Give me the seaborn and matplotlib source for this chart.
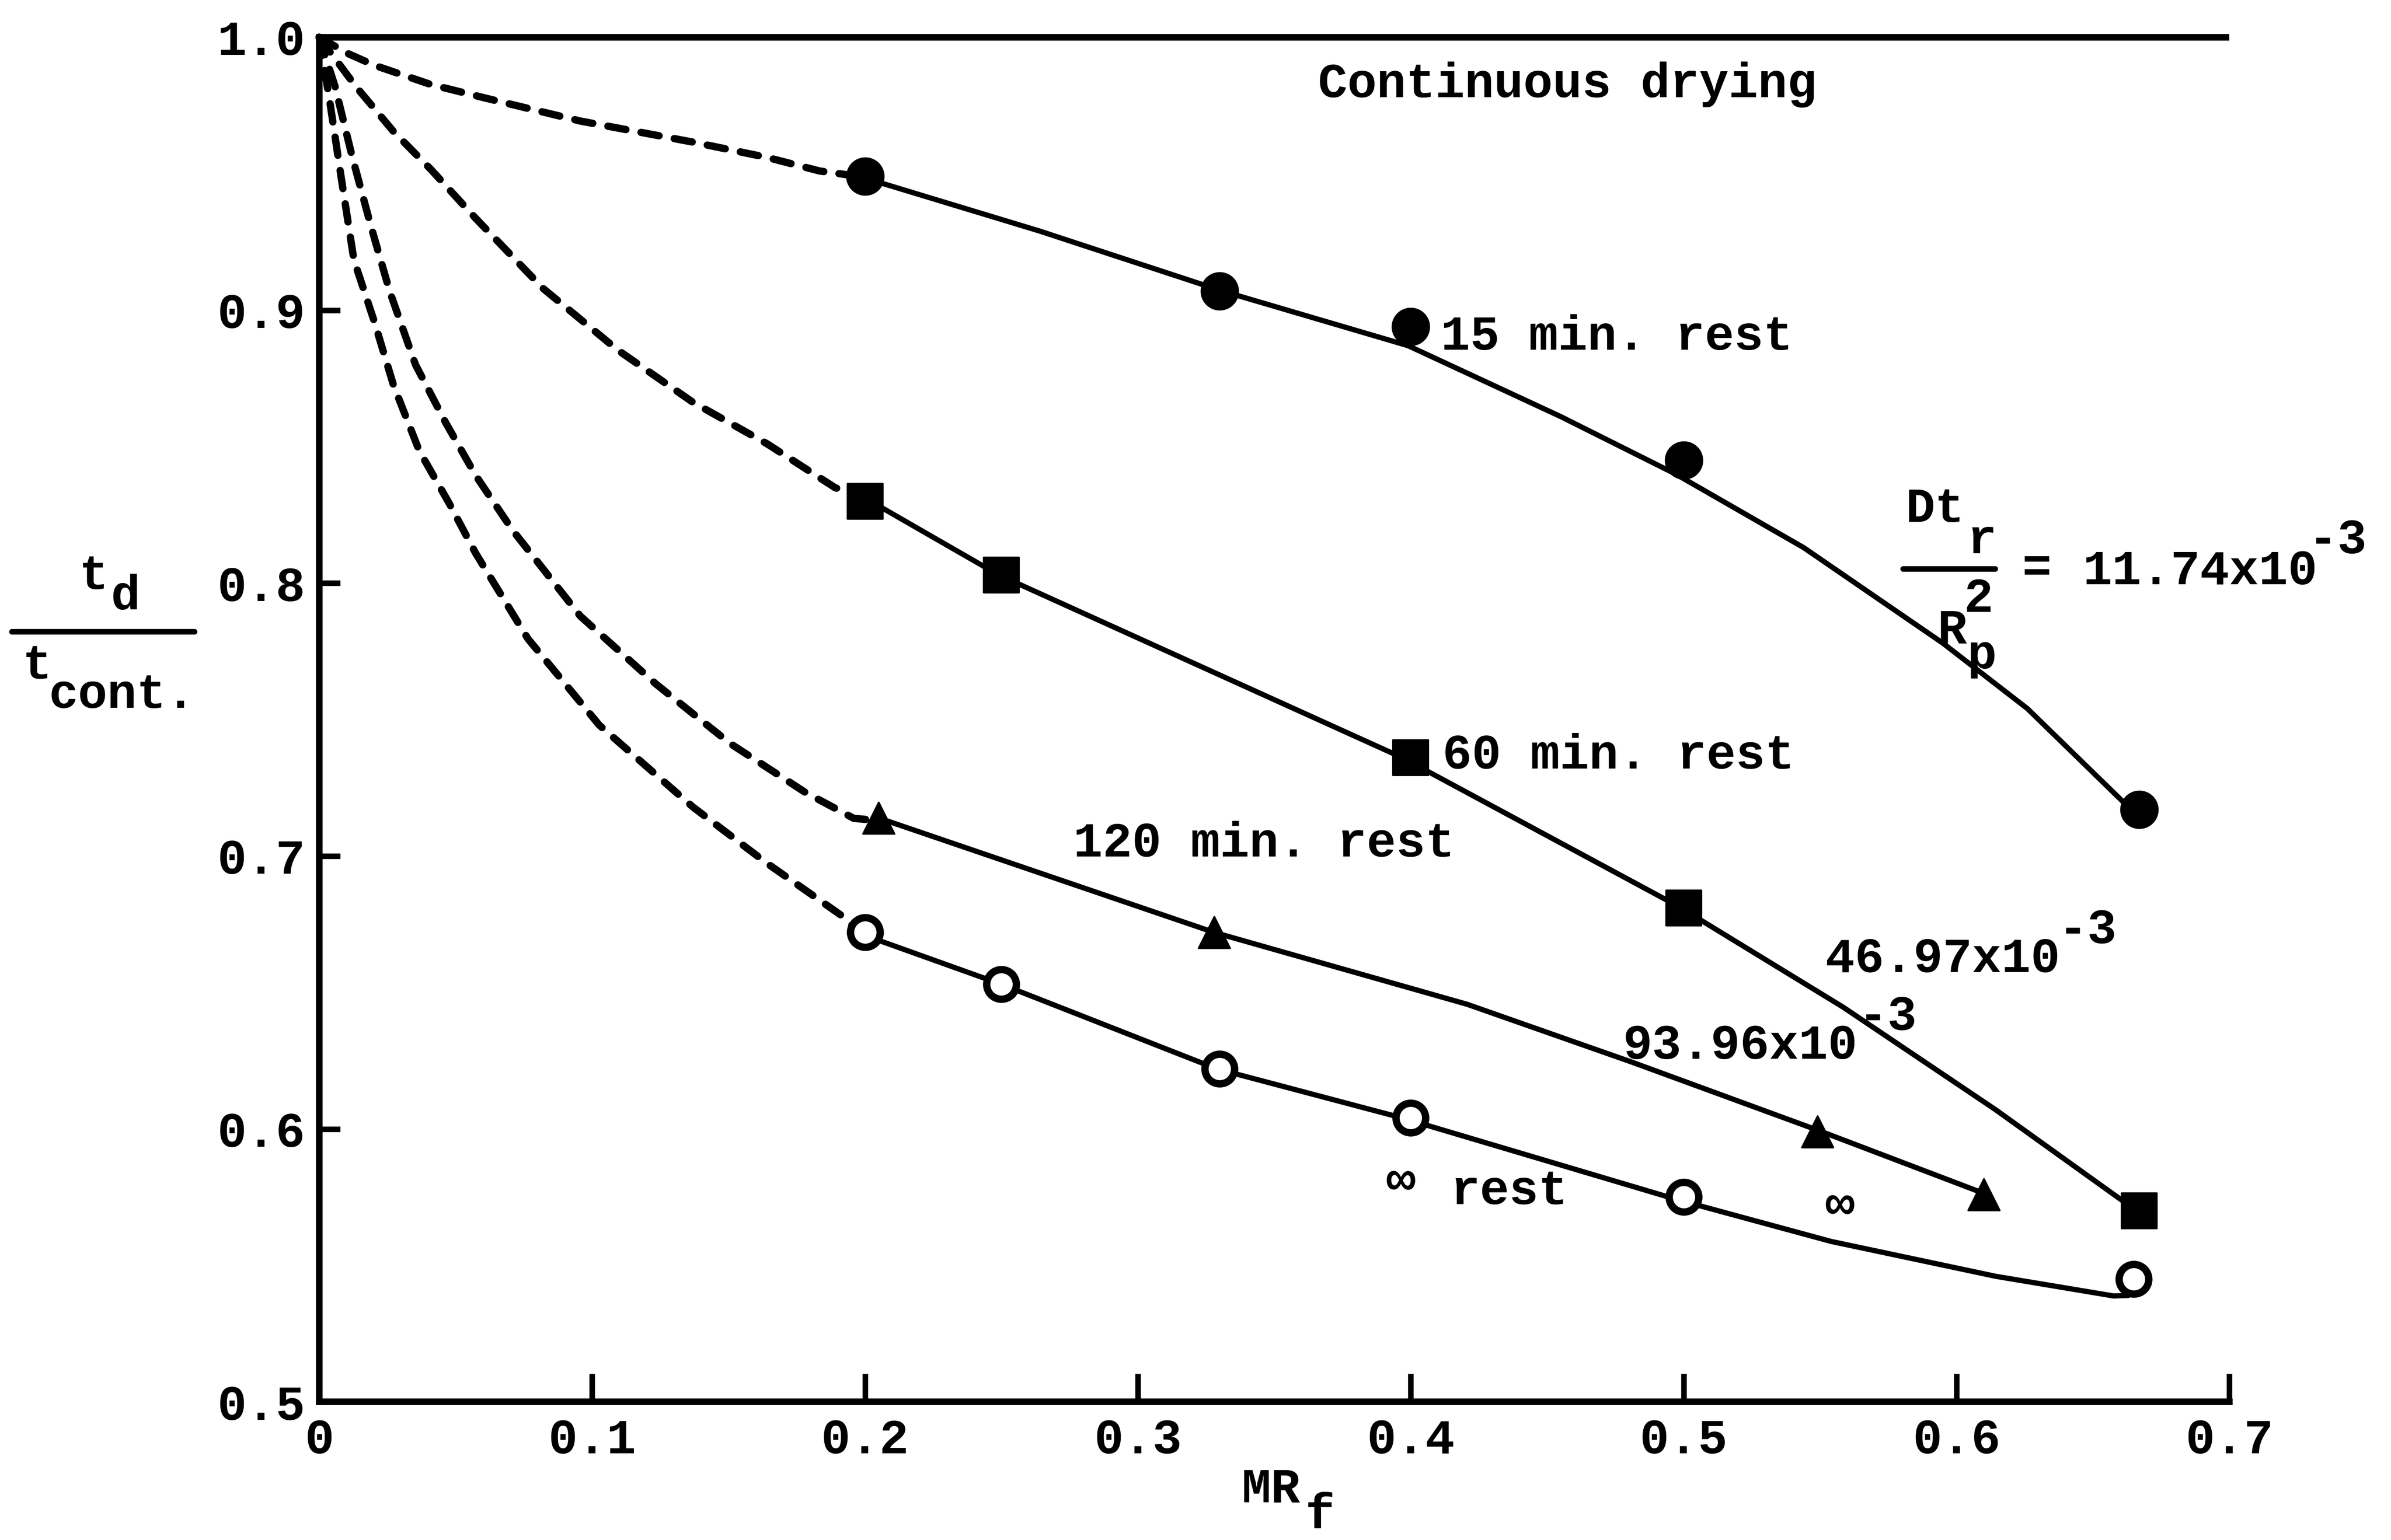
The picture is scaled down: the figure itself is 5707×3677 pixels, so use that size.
import matplotlib
matplotlib.use("Agg")
import matplotlib.pyplot as plt
from matplotlib.lines import Line2D
import seaborn as sns

# ---------------- data ----------------
# measured points (markers)
x_15 = [0.20, 0.33, 0.40, 0.50, 0.667]
y_15 = [0.949, 0.907, 0.894, 0.845, 0.717]

x_60 = [0.20, 0.25, 0.40, 0.50, 0.667]
y_60 = [0.830, 0.803, 0.736, 0.681, 0.570]

x_120 = [0.205, 0.328, 0.549, 0.610]
y_120 = [0.714, 0.672, 0.599, 0.576]

x_inf = [0.20, 0.25, 0.33, 0.40, 0.50, 0.665]
y_inf = [0.672, 0.653, 0.622, 0.604, 0.575, 0.545]

# drawn solid curves (traced)
curve_15_x = [0.198, 0.264, 0.331, 0.399, 0.455, 0.497, 0.544, 0.595, 0.626, 0.664]
curve_15_y = [0.949, 0.929, 0.907, 0.887, 0.861, 0.840, 0.813, 0.778, 0.754, 0.717]

curve_60_x = [0.201, 0.249, 0.397, 0.498, 0.5585, 0.6144, 0.666]
curve_60_y = [0.8306, 0.803, 0.736, 0.6816, 0.6446, 0.607, 0.570]

curve_120_x = [0.2054, 0.328, 0.4206, 0.481, 0.5498, 0.610]
curve_120_y = [0.7138, 0.672, 0.6457, 0.6245, 0.5993, 0.5764]

curve_inf_x = [0.1986, 0.25, 0.329, 0.397, 0.498, 0.554, 0.6144, 0.6576, 0.663]
curve_inf_y = [0.6714, 0.653, 0.622, 0.604, 0.574, 0.5588, 0.546, 0.5388, 0.539]

# dashed extrapolations back to (0, 1) (traced)
dash_15_x = [0.0, 0.0106, 0.0203, 0.0409, 0.0614, 0.0957, 0.1369, 0.164, 0.1834, 0.198]
dash_15_y = [1.0, 0.994, 0.9897, 0.9827, 0.9776, 0.9693, 0.9616, 0.956, 0.951, 0.949]

dash_60_x = [0.0, 0.0134, 0.0272, 0.041, 0.0573, 0.082, 0.1094, 0.1369, 0.1642, 0.189, 0.201]
dash_60_y = [1.0, 0.982, 0.9655, 0.9515, 0.9337, 0.908, 0.8854, 0.8663, 0.851, 0.835, 0.8306]

dash_120_x = [0.0, 0.0058, 0.012, 0.0189, 0.0258, 0.0353, 0.0464, 0.0573, 0.071,
              0.0957, 0.1232, 0.1505, 0.178, 0.1959, 0.205]
dash_120_y = [1.0, 0.982, 0.9566, 0.931, 0.907, 0.880, 0.8587, 0.8395, 0.8192,
              0.7879, 0.7632, 0.7413, 0.7234, 0.7138, 0.713]

dash_inf_x = [0.0, 0.0038, 0.008, 0.0127, 0.0203, 0.0272, 0.0367, 0.0476, 0.0573,
              0.0765, 0.1026, 0.1369, 0.164, 0.1917, 0.1986]
dash_inf_y = [1.0, 0.977, 0.949, 0.9185, 0.8955, 0.8726, 0.8484, 0.8293, 0.811,
              0.7796, 0.748, 0.718, 0.6974, 0.678, 0.6714]

# continuous drying reference line
cont_x = [0.0, 0.70]
cont_y = [1.0, 1.0]

x_ticks = [0.0, 0.1, 0.2, 0.3, 0.4, 0.5, 0.6, 0.7]
x_tick_labels = ["0", "0.1", "0.2", "0.3", "0.4", "0.5", "0.6", "0.7"]
y_ticks = [0.5, 0.6, 0.7, 0.8, 0.9, 1.0]
y_tick_labels = ["0.5", "0.6", "0.7", "0.8", "0.9", "1.0"]

# ---------------- style ----------------
sns.set_style("ticks")
plt.rcParams["font.family"] = ["Liberation Mono", "DejaVu Sans Mono", "DejaVu Sans"]
plt.rcParams["font.weight"] = "bold"
FS = 28

W, H, DPI = 5707, 3677, 300
fig = plt.figure(figsize=(W / DPI, H / DPI), dpi=DPI)
fig.patch.set_facecolor("white")
ax = fig.add_axes([0.1335, 0.0897, 0.7989, 0.8861])
ax.set_facecolor("white")

K = "black"
LW_SOLID = 3.0
LW_DASH = 4.2
dash_kw = dict(linestyle=(0, (2.5, 2.1)), dash_capstyle="round")

# continuous drying line
sns.lineplot(x=cont_x, y=cont_y, ax=ax, color=K, lw=3.8, sort=False,
             estimator=None, clip_on=False, solid_capstyle="butt")

# dashed parts
for dx, dy in [(dash_15_x, dash_15_y), (dash_60_x, dash_60_y),
               (dash_120_x, dash_120_y), (dash_inf_x, dash_inf_y)]:
    sns.lineplot(x=dx, y=dy, ax=ax, color=K, lw=LW_DASH, sort=False,
                 estimator=None, clip_on=False, **dash_kw)

# solid curves
for cx, cy in [(curve_15_x, curve_15_y), (curve_60_x, curve_60_y),
               (curve_120_x, curve_120_y), (curve_inf_x, curve_inf_y)]:
    sns.lineplot(x=cx, y=cy, ax=ax, color=K, lw=LW_SOLID, sort=False,
                 estimator=None, clip_on=False, solid_capstyle="round",
                 solid_joinstyle="round")

# markers
sns.scatterplot(x=x_15, y=y_15, ax=ax, marker="o", s=21 ** 2, color=K,
                edgecolor=K, linewidth=1, zorder=5, clip_on=False)
sns.scatterplot(x=x_60, y=y_60, ax=ax, marker="s", s=20 ** 2, color=K,
                edgecolor=K, linewidth=1, zorder=5, clip_on=False)
sns.scatterplot(x=x_120, y=y_120, ax=ax, marker="^", s=18 ** 2, color=K,
                edgecolor=K, linewidth=1, zorder=5, clip_on=False)
sns.scatterplot(x=x_inf, y=y_inf, ax=ax, marker="o", s=17 ** 2, facecolor="white",
                edgecolor=K, linewidth=4.2, zorder=5, clip_on=False)

# axes
ax.set_xlim(0.0, 0.7)
ax.set_ylim(0.5, 1.0)
sns.despine(ax=ax, top=True, right=True)
for side in ("left", "bottom"):
    ax.spines[side].set_linewidth(3.8)
    ax.spines[side].set_color(K)
ax.set_xticks(x_ticks)
ax.set_xticklabels(x_tick_labels)
ax.set_yticks(y_ticks)
ax.set_yticklabels(y_tick_labels)
ax.tick_params(axis="x", direction="in", length=16, width=3.2, pad=9,
               labelsize=FS, colors=K)
ax.tick_params(axis="y", direction="in", length=12, width=3.2, pad=8,
               labelsize=FS, colors=K)
ax.set_xlabel("")
ax.set_ylabel("")
ax.grid(False)

# annotations (data coordinates)
txt = dict(fontsize=FS, color=K, ha="left", va="baseline", fontweight="bold")
ax.text(0.366, 0.978, "Continuous drying", **txt)
ax.text(0.411, 0.8855, "15 min. rest", **txt)
ax.text(0.4117, 0.732, "60 min. rest", **txt)
ax.text(0.2763, 0.6998, "120 min. rest", **txt)
ax.text(0.391, 0.576, "\u221e", **txt)
ax.text(0.4146, 0.5725, "rest", **txt)
ax.text(0.552, 0.567, "\u221e", **txt)

# 11.74x10^-3 group
ax.text(0.5814, 0.8224, "Dt", **txt)
ax.text(0.604, 0.811, "r", **txt)
ax.text(0.6028, 0.7894, "2", **txt)
ax.text(0.593, 0.778, "R", **txt)
ax.text(0.604, 0.7818, "p", fontsize=FS, color=K, ha="left", va="top", fontweight="bold")
ax.text(0.624, 0.8052, "=", fontsize=FS, color=K, ha="left", va="center", fontweight="bold")
ax.text(0.6463, 0.7996, "11.74x10", **txt)
ax.text(0.7289, 0.811, "-3", **txt)

ax.text(0.552, 0.6575, "46.97x10", **txt)
ax.text(0.6372, 0.668, "-3", **txt)
ax.text(0.4777, 0.6257, "93.96x10", **txt)
ax.text(0.564, 0.6363, "-3", **txt)

# fraction bar of Dt_r / R_p^2 (figure coords)
fig.add_artist(Line2D([0.7959, 0.8344], [0.6307, 0.6307], color=K, lw=3.2,
                      solid_capstyle="round"))

# y-axis label  t_d / t_cont.
ftxt = dict(fontsize=FS, color=K, ha="left", va="baseline", fontweight="bold")
fig.text(0.0331, 0.6176, "t", **ftxt)
fig.text(0.0464, 0.6043, "d", **ftxt)
fig.add_artist(Line2D([0.0049, 0.0813], [0.5899, 0.5899], color=K, lw=3.2,
                      solid_capstyle="round"))
fig.text(0.0095, 0.5594, "t", **ftxt)
fig.text(0.0205, 0.5404, "cont.", **ftxt)

# x-axis label MR_f
fig.text(0.5192, 0.0245, "MR", **ftxt)
fig.text(0.5458, 0.0075, "f", **ftxt)

fig.savefig("out.png", dpi=DPI, facecolor="white")
